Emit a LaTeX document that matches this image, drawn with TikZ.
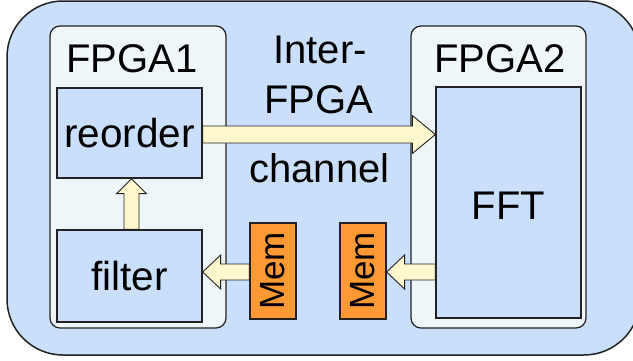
\documentclass[tikz,border=0pt]{standalone}
\usepackage{fontspec}
\setmainfont{Liberation Sans}
\usetikzlibrary{calc}
\definecolor{outerblue}{RGB}{201,223,252}
\definecolor{fpgafill}{RGB}{239,246,250}
\definecolor{arrowfill}{RGB}{255,247,206}
\definecolor{memfill}{RGB}{255,153,51}
\definecolor{edgedark}{RGB}{34,34,34}
\begin{document}
\begin{tikzpicture}[x=1pt,y=-1pt,
  fpgabox/.style={draw=edgedark, line width=1.2pt, fill=fpgafill, rounded corners=10pt, inner sep=0pt},
  unitbox/.style={draw=edgedark, line width=1.3pt, fill=outerblue, inner sep=0pt, font=\fontsize{40.5}{46}\selectfont},
  membox/.style={draw=edgedark, line width=1.2pt, fill=memfill, inner sep=0pt, minimum width=46pt, minimum height=96pt},
  blockarrow/.style={draw=edgedark, line width=0.9pt, fill=arrowfill, line join=miter},
  lbl/.style={inner sep=0pt, anchor=base, font=\fontsize{40}{46}\selectfont}]
\useasboundingbox (0,0) rectangle (633,360);
\begin{scope}
  \clip (0,0) rectangle (633,360);
  \draw[draw=edgedark, line width=1.5pt, fill=outerblue, rounded corners=56pt] (7,1) rectangle (640,355);
\end{scope}
% FPGA containers
\node[fpgabox, minimum width=176pt, minimum height=302pt] (fpga1) at (138,177) {};
\node[fpgabox, minimum width=175pt, minimum height=302pt] (fpga2) at (498.5,177) {};
\node[lbl] (fpga1lbl) at (132,72) {FPGA1};
\node[lbl] (fpga2lbl) at (500,72) {FPGA2};
% units
\node[unitbox, minimum width=145pt, minimum height=90pt] (reorder) at (129.5,133) {reorder};
\node[unitbox, minimum width=145pt, minimum height=92pt] (filter) at (129.5,276) {filter};
\node[unitbox, minimum width=145pt, minimum height=231pt] (fft) at (508.5,202.5) {};
\node[lbl] (fftlbl) at (508.5,219) {FFT};
\node[membox] (mem1) at (273,271) {\rotatebox{90}{\fontsize{35}{40}\selectfont Mem}};
\node[membox] (mem2) at (363,271) {\rotatebox{90}{\fontsize{35}{40}\selectfont Mem}};
% channel text
\node[lbl] (t1) at (320,63) {Inter-};
\node[lbl] (t2) at (319,113) {FPGA};
\node[lbl] (t3) at (319.5,182) {channel};
% block arrows
\coordinate (a1s) at ($(reorder.east)+(0,1.5)$);
\coordinate (a1t) at ($(reorder.east -| fft.west)+(0,1.5)$);
\draw[blockarrow] ($(a1s)+(0,-8.5)$) -- ($(a1t)+(-23,-8.5)$) -- ($(a1t)+(-23,-19)$) -- (a1t)
  -- ($(a1t)+(-23,19)$) -- ($(a1t)+(-23,8.5)$) -- ($(a1s)+(0,8.5)$) -- cycle;
\coordinate (a2s) at ($(filter.north)+(2,0)$);
\coordinate (a2t) at ($(reorder.south)+(2,0)$);
\draw[blockarrow] ($(a2s)+(-7.5,0)$) -- ($(a2t)+(-7.5,15)$) -- ($(a2t)+(-15,15)$) -- (a2t)
  -- ($(a2t)+(15,15)$) -- ($(a2t)+(7.5,15)$) -- ($(a2s)+(7.5,0)$) -- cycle;
\coordinate (a3s) at ($(mem1.west)+(0,1)$);
\coordinate (a3t) at ($(mem1.west -| filter.east)+(0,1)$);
\draw[blockarrow] ($(a3s)+(0,-8)$) -- ($(a3t)+(18,-8)$) -- ($(a3t)+(18,-17)$) -- (a3t)
  -- ($(a3t)+(18,17)$) -- ($(a3t)+(18,8)$) -- ($(a3s)+(0,8)$) -- cycle;
\coordinate (a4s) at ($(mem2.east -| fft.west)+(0,1)$);
\coordinate (a4t) at ($(mem2.east)+(0,1)$);
\draw[blockarrow] ($(a4s)+(0,-8)$) -- ($(a4t)+(18,-8)$) -- ($(a4t)+(18,-17)$) -- (a4t)
  -- ($(a4t)+(18,17)$) -- ($(a4t)+(18,8)$) -- ($(a4s)+(0,8)$) -- cycle;
\end{tikzpicture}
\end{document}
